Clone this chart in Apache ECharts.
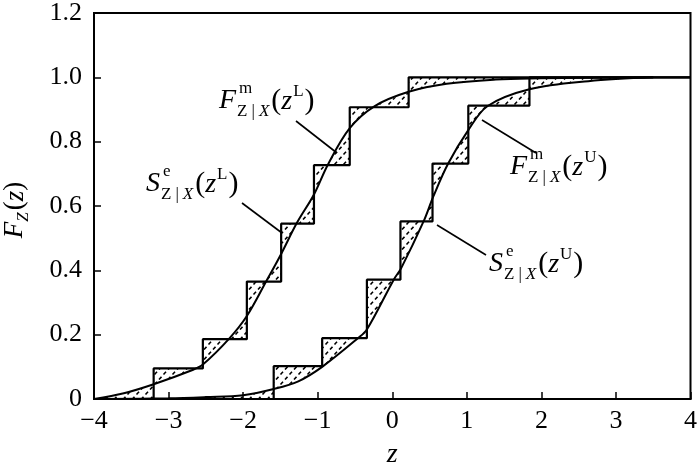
<!DOCTYPE html>
<html>
<head>
<meta charset="utf-8">
<script src="https://cdn.jsdelivr.net/npm/echarts@6/dist/echarts.min.js"></script>
<style>
  html, body { margin: 0; padding: 0; background: #fff; }
  #main { width: 700px; height: 474px; }
</style>
</head>
<body>
<div id="main"></div>
<script>
// model CDF curves
var curveLz = [-4, -3.6, -3.2, -2.67, -2.54, -2.19, -1.95, -1.69, -1.49, -1.28, -1.05, -0.86, -0.57, -0.24, 0.22, 0.73, 1.39, 2.0, 2.6, 3.5];
var curveLF = [0, 0.018, 0.046, 0.091, 0.107, 0.187, 0.258, 0.366, 0.451, 0.547, 0.636, 0.73, 0.842, 0.91, 0.955, 0.98, 0.993, 0.997, 0.999, 1.0];
var curveUz = [-4, -3.0, -2.5, -2.0, -1.59, -1.26, -0.94, -0.46, -0.34, 0.02, 0.12, 0.42, 0.55, 0.75, 1.02, 1.28, 1.84, 2.63, 3.5];
var curveUF = [0, 0.002, 0.006, 0.012, 0.031, 0.055, 0.10, 0.189, 0.216, 0.371, 0.407, 0.552, 0.629, 0.732, 0.836, 0.911, 0.963, 0.988, 1.0];

// empirical step functions: jump positions and levels after each jump
var stepLz = [-3.2, -2.54, -1.95, -1.49, -1.05, -0.57, 0.22];
var stepLF = [0.095, 0.186, 0.365, 0.545, 0.727, 0.907, 1.0];
var stepUz = [-1.59, -0.94, -0.34, 0.11, 0.54, 1.02, 1.84];
var stepUF = [0.102, 0.189, 0.371, 0.552, 0.732, 0.912, 1.0];

var xTicks = [-4, -3, -2, -1, 0, 1, 2, 3, 4];
var yTicks = [0, 0.2, 0.4, 0.6, 0.8, 1.0, 1.2];

var SERIF = 'Liberation Serif, serif';

function zip(a, b) {
  return a.map(function (v, i) { return [v, b[i]]; });
}
function stepData(zs, fs) {
  var d = [[xTicks[0], 0]];
  zs.forEach(function (z, i) { d.push([z, fs[i]]); });
  d.push([xTicks[xTicks.length - 1], fs[fs.length - 1]]);
  return d;
}

// dotted hatch
var tile = document.createElement('canvas');
tile.width = 9; tile.height = 10;
var tc = tile.getContext('2d');
tc.strokeStyle = '#000';
tc.lineWidth = 1.6;
tc.beginPath();
tc.moveTo(1.5, 4.5); tc.lineTo(4, 1.8);
tc.moveTo(6, 9.5); tc.lineTo(8.5, 6.8);
tc.stroke();
var hatch = { image: tile, repeat: 'repeat' };

function hatchRender(sz, sf, cz, cf) {
  return function (params, api) {
    var pts = [api.coord([xTicks[0], 0])];
    var y = 0;
    sz.forEach(function (z, i) {
      pts.push(api.coord([z, y]));
      y = sf[i];
      pts.push(api.coord([z, y]));
    });
    pts.push(api.coord([xTicks[xTicks.length - 1], y]));
    for (var j = cz.length - 1; j >= 0; j--) pts.push(api.coord([cz[j], cf[j]]));
    return {
      type: 'polygon',
      shape: { points: pts, smooth: 0 },
      style: { fill: hatch, stroke: null }
    };
  };
}

// text helpers for the formula labels
var mctx = document.createElement('canvas').getContext('2d');
function tw(s, size, italic) {
  mctx.font = (italic ? 'italic ' : '') + size + 'px ' + SERIF;
  return mctx.measureText(s).width;
}
function txt(x, y, s, size, italic) {
  return {
    type: 'text', x: x, y: y, silent: true,
    style: {
      text: s, fill: '#000',
      font: (italic ? 'italic ' : '') + size + 'px ' + SERIF,
      align: 'left', verticalAlign: 'middle',
      textAlign: 'left', textVerticalAlign: 'middle'
    }
  };
}
function cdfLabel(x0, y0, letter, sup, argSup) {
  var B = 28, S = 17, out = [];
  var x = x0;
  out.push(txt(x, y0, letter, B, true));
  x += tw(letter, B, true) + 1;
  out.push(txt(x + 2, y0 - 12, sup, S, false));
  var xs = x;
  out.push(txt(xs, y0 + 11, 'Z', S, false)); xs += tw('Z', S) + 4;
  out.push(txt(xs, y0 + 11, '|', S, false)); xs += tw('|', S) + 4;
  out.push(txt(xs, y0 + 11, 'X', S, true)); xs += tw('X', S, true);
  x = Math.max(xs, x + tw(sup, S)) + 2;
  out.push(txt(x, y0, '(', B + 2, false)); x += tw('(', B + 2);
  out.push(txt(x, y0 + 1, 'z', B, true)); x += tw('z', B, true) + 1;
  out.push(txt(x, y0 - 9, argSup, S, false)); x += tw(argSup, S) + 1;
  out.push(txt(x, y0, ')', B + 2, false));
  return out;
}
function leader(x1, y1, x2, y2) {
  return {
    type: 'line', silent: true,
    shape: { x1: x1, y1: y1, x2: x2, y2: y2 },
    style: { stroke: '#000', lineWidth: 1.6 }
  };
}
function yName() {
  var B = 27, S = 17;
  var w = tw('F', B, true) + tw('Z', S, true) + 2 + tw('(', B) + tw('z', B, true) + tw(')', B);
  var x = -w / 2, out = [];
  out.push(txt(x, 0, 'F', B, true)); x += tw('F', B, true);
  out.push(txt(x, 9, 'Z', S, true)); x += tw('Z', S, true) + 2;
  out.push(txt(x, 0, '(', B, false)); x += tw('(', B);
  out.push(txt(x, 1, 'z', B, true)); x += tw('z', B, true);
  out.push(txt(x, 0, ')', B, false));
  return { type: 'group', x: 15, y: 210, rotation: Math.PI / 2, children: out };
}

var chart = echarts.init(document.getElementById('main'));

var labelStyle = { color: '#000', fontFamily: SERIF, fontSize: 26 };

chart.setOption({
  animation: false,
  backgroundColor: '#fff',
  grid: {
    left: 94, right: 4, top: 13, bottom: 66,
    show: true, borderColor: '#000', borderWidth: 2, backgroundColor: 'transparent'
  },
  xAxis: {
    type: 'value',
    min: xTicks[0], max: xTicks[xTicks.length - 1], interval: 1,
    splitLine: { show: false },
    axisLine: { show: true, onZero: false, lineStyle: { color: '#000', width: 2 } },
    axisTick: { show: true, inside: true, length: 7, lineStyle: { color: '#000', width: 1.5 } },
    axisLabel: Object.assign({
      margin: 9,
      formatter: function (v) { return String(v).replace('-', '\u2212'); }
    }, labelStyle),
    name: 'z',
    nameLocation: 'middle',
    nameGap: 42,
    nameTextStyle: { color: '#000', fontFamily: SERIF, fontSize: 28, fontStyle: 'italic' }
  },
  yAxis: {
    type: 'value',
    min: yTicks[0], max: yTicks[yTicks.length - 1], interval: 0.2,
    splitLine: { show: false },
    axisLine: { show: true, onZero: false, lineStyle: { color: '#000', width: 2 } },
    axisTick: { show: true, inside: true, length: 7, lineStyle: { color: '#000', width: 1.5 } },
    axisLabel: Object.assign({
      margin: 12,
      formatter: function (v) { return v === 0 ? '0' : v.toFixed(1); }
    }, labelStyle)
  },
  series: [
    {
      type: 'custom', name: 'hatchL', z: 1, clip: true,
      data: [[0, 0]],
      renderItem: hatchRender(stepLz, stepLF, curveLz, curveLF)
    },
    {
      type: 'custom', name: 'hatchU', z: 1, clip: true,
      data: [[0, 0]],
      renderItem: hatchRender(stepUz, stepUF, curveUz, curveUF)
    },
    {
      type: 'line', name: 'SL', z: 3, step: 'end', symbol: 'none',
      data: stepData(stepLz, stepLF),
      lineStyle: { color: '#000', width: 2.2 }
    },
    {
      type: 'line', name: 'SU', z: 3, step: 'end', symbol: 'none',
      data: stepData(stepUz, stepUF),
      lineStyle: { color: '#000', width: 2.2 }
    },
    {
      type: 'line', name: 'FL', z: 3, smooth: 0.35, symbol: 'none',
      data: zip(curveLz, curveLF),
      lineStyle: { color: '#000', width: 2 }
    },
    {
      type: 'line', name: 'FU', z: 3, smooth: 0.35, symbol: 'none',
      data: zip(curveUz, curveUF),
      lineStyle: { color: '#000', width: 2 }
    }
  ],
  graphic: [].concat(
    [leader(296, 121, 337, 153), leader(242, 203, 282, 233),
     leader(482, 120, 536, 153), leader(437, 225, 486, 255)],
    cdfLabel(219, 101, 'F', 'm', 'L'),
    cdfLabel(146, 184, 'S', 'e', 'L'),
    cdfLabel(510, 167, 'F', 'm', 'U'),
    cdfLabel(489, 264, 'S', 'e', 'U'),
    [yName()]
  )
});
</script>
</body>
</html>
